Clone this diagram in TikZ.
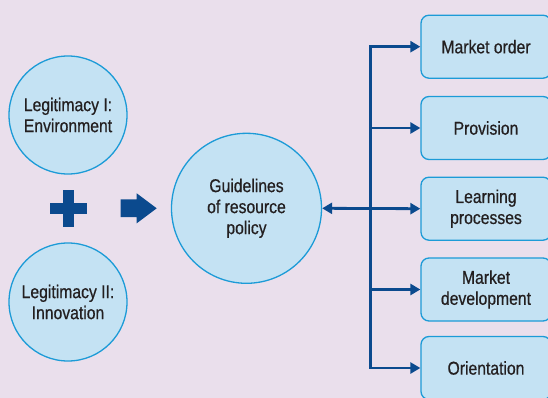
\documentclass[tikz,border=0pt]{standalone}
\usepackage{fontspec}
\setmainfont{Liberation Sans}
\newfontfamily\lblfont[FakeStretch=0.85, FakeBold=0.6]{Liberation Sans}
\usetikzlibrary{arrows.meta}
\definecolor{bgc}{HTML}{EADFEC}
\definecolor{fillc}{HTML}{C4E2F3}
\definecolor{edgec}{HTML}{1C9BD7}
\definecolor{navy}{HTML}{0B4A8E}
\definecolor{txt}{HTML}{231F20}
\tikzset{
  circ/.style = {draw=edgec, fill=fillc, circle, line width=1.3pt, align=center,
                 inner sep=0pt, text=txt, font=\lblfont\fontsize{18.5}{21}\selectfont},
  blk/.style  = {draw=edgec, fill=fillc, rounded corners=8pt, line width=1.3pt,
                 minimum width=130pt, minimum height=63pt, align=center,
                 text=txt, font=\lblfont\fontsize{18.5}{21}\selectfont},
  ar/.style   = {-{Triangle[length=10pt, width=11pt]}, draw=navy, line width=2.8pt},
}

\begin{document}
\begin{tikzpicture}[x=1pt, y=-1pt]
  \fill[bgc] (0,0) rectangle (548,398);
  \useasboundingbox (0,0) rectangle (548,398);
  % sources
  \node[circ, minimum size=118pt] (lgi) at (68,115) {Legitimacy I:\\Environment};
  \node[circ, minimum size=118pt] (lgii) at (68,302) {Legitimacy II:\\Innovation};
  % plus and arrow
  \fill[navy] (62.6,190) rectangle (74,226.7);
  \fill[navy] (50,202.6) rectangle (86.6,213.9);
  \fill[navy] (120.7,199.4) -- (136.7,199.4) -- (136.7,193.3) -- (156.7,208.3)
    -- (136.7,223.3) -- (136.7,217.2) -- (120.7,217.2) -- cycle;
  % guidelines
  \node[circ, minimum size=150pt] (pol) at (246.5,208.3)
    {Guidelines\\of resource\\policy};
  % targets
  \node[blk] (mo) at (486,46.7) {Market order};
  \node[blk] (pv) at (486,128) {Provision};
  \node[blk] (lp) at (486,208.7) {Learning\\processes};
  \node[blk] (md) at (486,289.5) {Market\\development};
  \node[blk] (or) at (486,368) {Orientation};
  % connectors
  \coordinate (jn) at (370.5,208.3);
  \draw[ar, {Triangle[length=10pt, width=11pt]}-{Triangle[length=10pt, width=11pt]}]
    (pol.east) -- (lp.west);
  \foreach \b in {mo,pv,md,or}
    \draw[ar] (jn) |- (\b.west);
\end{tikzpicture}
\end{document}
